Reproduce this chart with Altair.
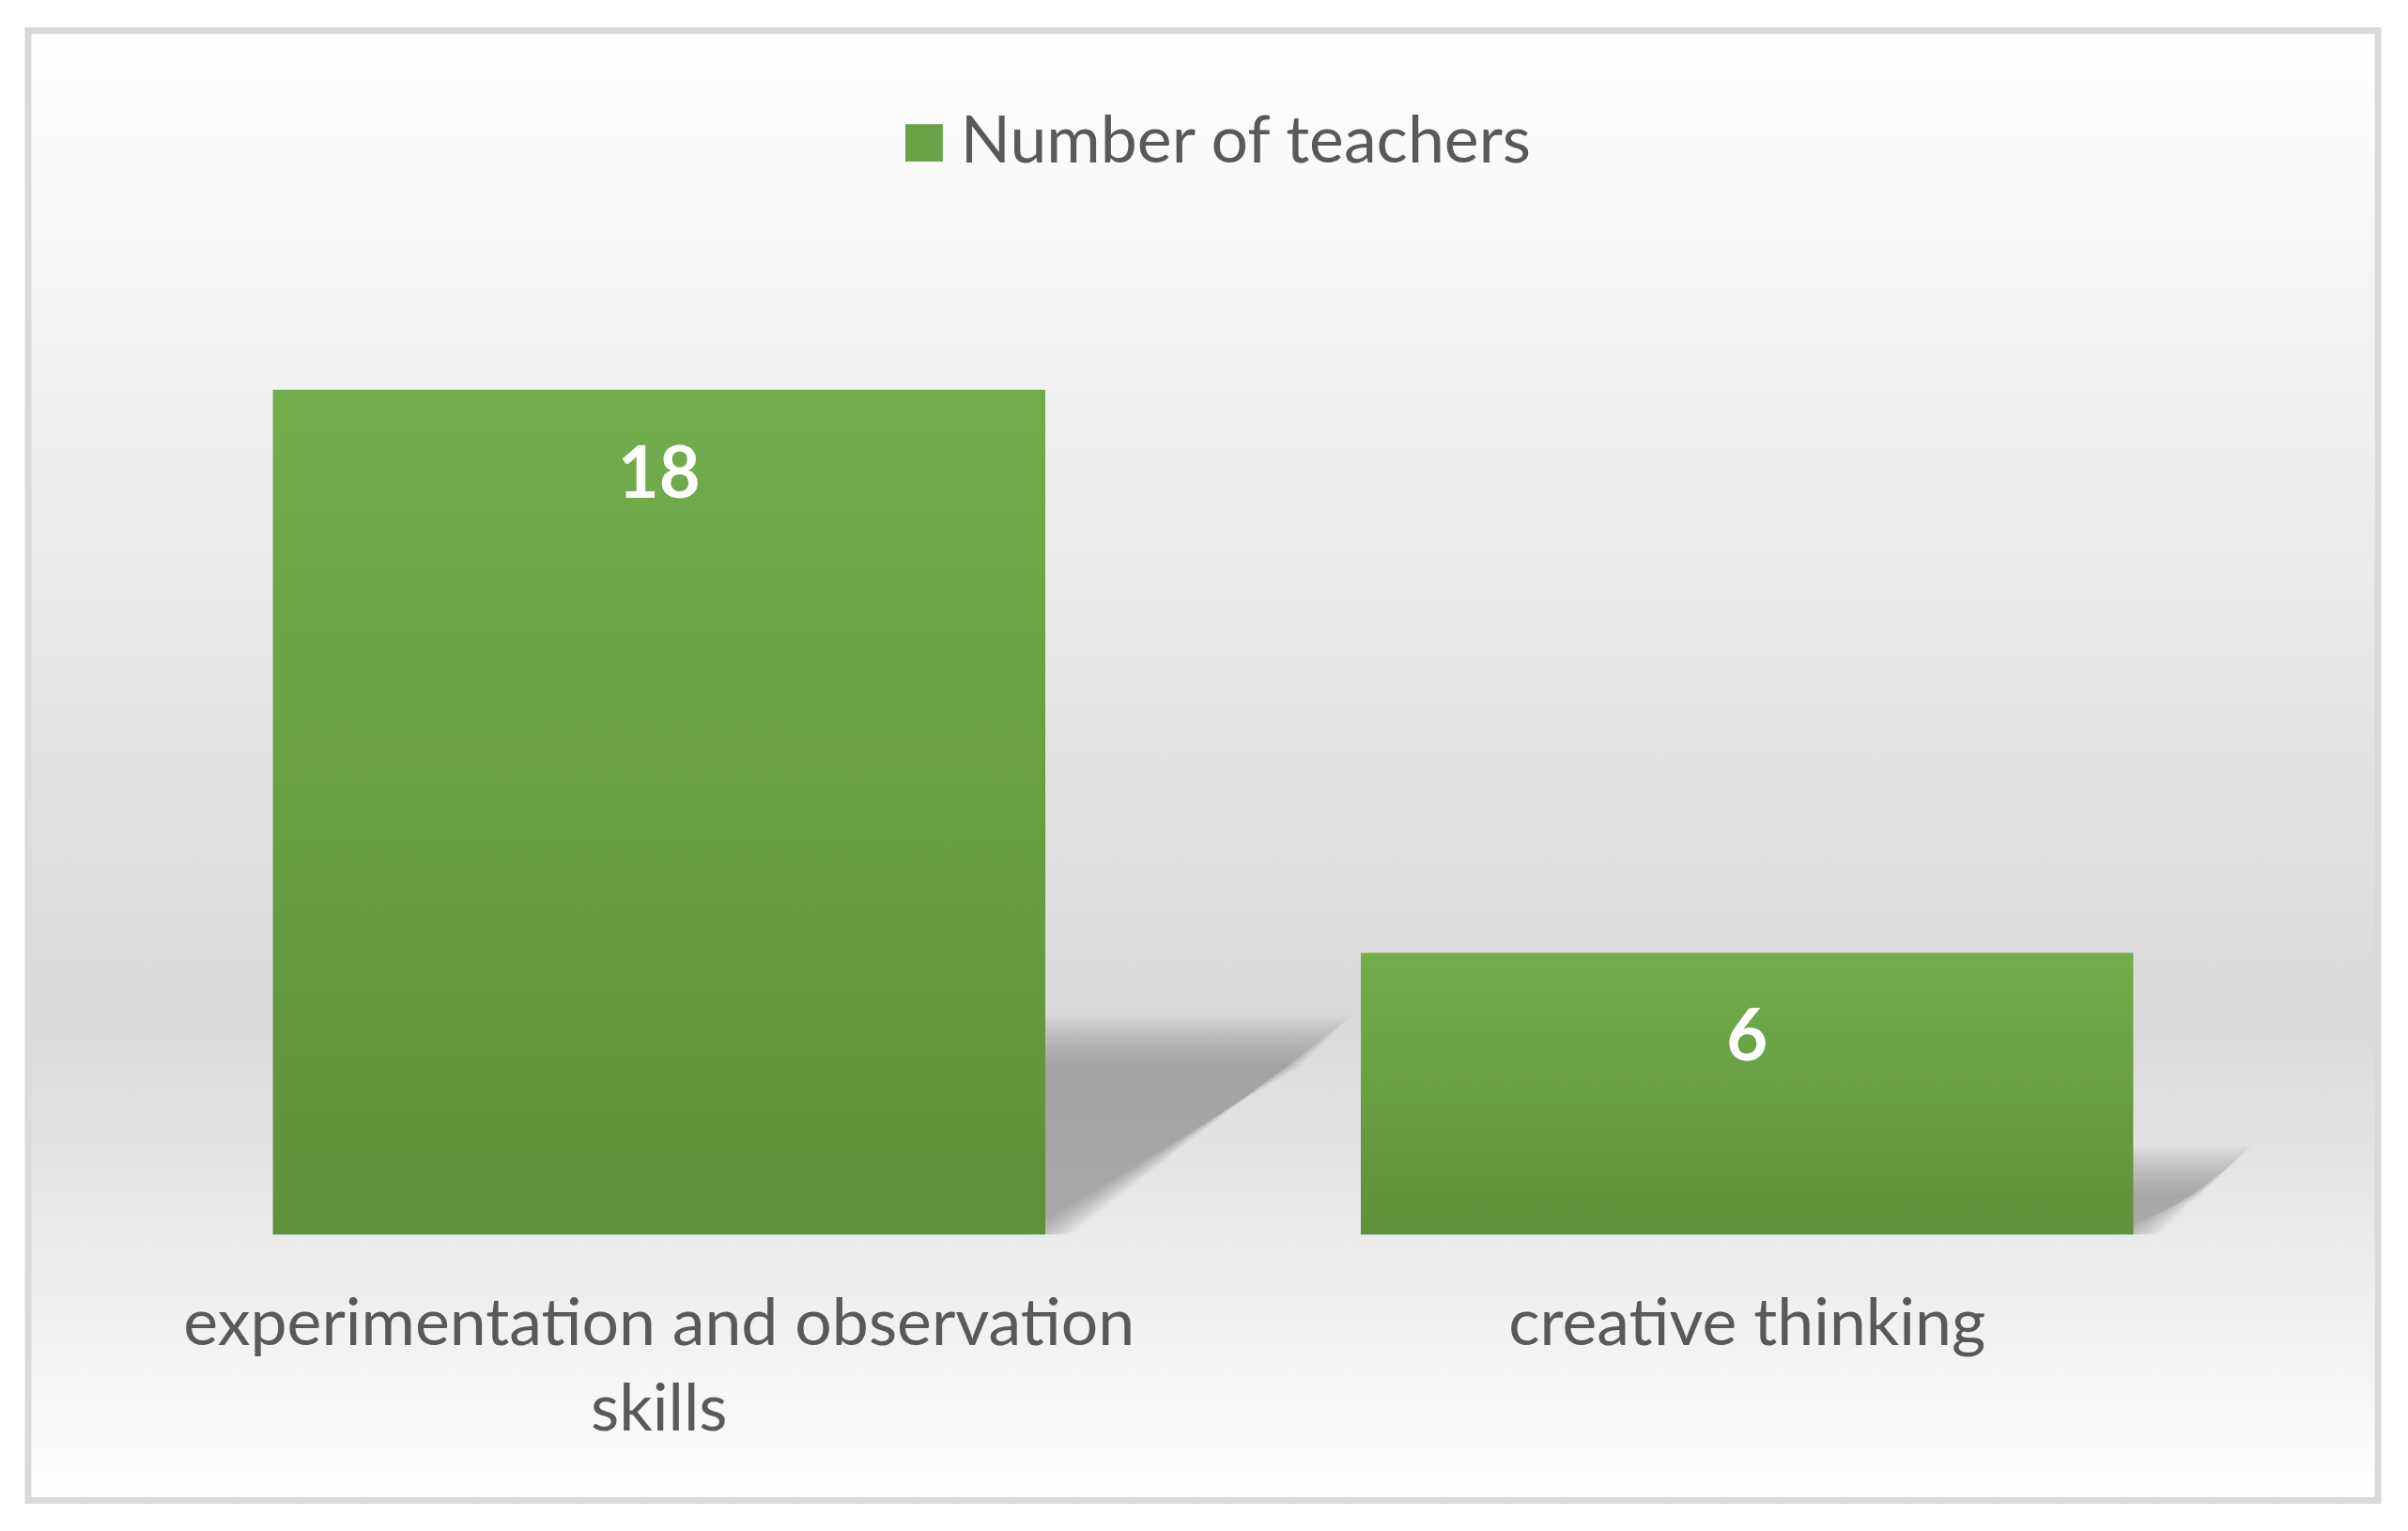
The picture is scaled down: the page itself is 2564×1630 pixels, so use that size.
import altair as alt
import pandas as pd

# ---- data ----
categories = ["experimentation and observation skills", "creative thinking"]
values = [18, 6]
series_name = "Number of teachers"

# ---- style constants ----
FONT = "Lato"
TEXT_GRAY = "#595959"
PAD_INNER = 0.29
PAD_OUTER = 0.225
Y_DOMAIN = [-5.67, 25.66]
W, H = 2510, 1570

df = pd.DataFrame({"category": categories, "value": values, "series": series_name})

# soft perspective shadow behind each bar, derived from the data
step_units = 2 - PAD_INNER + 2 * PAD_OUTER
px_per_unit = H / (Y_DOMAIN[1] - Y_DOMAIN[0])
step_px = W / step_units
blur_offsets = list(range(-26, 27, 4))
shadow_rows = []
for i, (c, v) in enumerate(zip(categories, values)):
    h = 0.23 * v
    d = 1.45 * h * px_per_unit / step_px
    left = PAD_OUTER + i
    right = left + (1 - PAD_INNER)
    for k, o in enumerate(blur_offsets):
        oy = o / px_per_unit
        ox = o / step_px
        key = f"{c}-{k}"
        shadow_rows.append({"id": key, "sy": 0, "sx": left, "sx2": right + ox})
        shadow_rows.append({"id": key, "sy": h + oy, "sx": left + d, "sx2": right + d + ox})
shadow_df = pd.DataFrame(shadow_rows)

band_scale = alt.Scale(type="band", paddingInner=PAD_INNER, paddingOuter=PAD_OUTER)
y_scale = alt.Scale(domain=Y_DOMAIN, nice=False, zero=False)

bg_gradient = alt.LinearGradient(
    gradient="linear",
    x1=0, y1=0, x2=0, y2=1,
    stops=[
        alt.GradientStop(offset=0, color="#ffffff"),
        alt.GradientStop(offset=0.67, color="#d9d9d9"),
        alt.GradientStop(offset=1, color="#ffffff"),
    ],
)
bar_gradient = alt.LinearGradient(
    gradient="linear",
    x1=0, y1=0, x2=0, y2=1,
    stops=[
        alt.GradientStop(offset=0, color="#72ad4c"),
        alt.GradientStop(offset=1, color="#5d913a"),
    ],
)

background = alt.Chart(alt.Data(values=[{"bg": 1}])).mark_rect(
    fill=bg_gradient, stroke="#d9d9d9", strokeWidth=7
).encode(opacity=alt.value(1))

shadows = alt.Chart(shadow_df).mark_area(
    orient="horizontal", fill="#8a8a8a", fillOpacity=0.066
).encode(
    y=alt.Y("sy:Q", scale=y_scale, axis=None),
    x=alt.X("sx:Q", scale=alt.Scale(domain=[0, step_units], nice=False, zero=False), axis=None),
    x2="sx2:Q",
    detail="id:N",
)

bars = alt.Chart(df).mark_bar(fill=bar_gradient).encode(
    x=alt.X(
        "category:N",
        sort=categories,
        scale=band_scale,
        title=None,
        axis=alt.Axis(
            labelAngle=0,
            labelFont=FONT,
            labelFontSize=70,
            labelColor=TEXT_GRAY,
            labelLineHeight=92,
            labelPadding=62,
            labelLimit=3000,
            domain=False,
            ticks=False,
            grid=False,
            offset=-284,
            zindex=2,
            labelExpr="datum.label == 'experimentation and observation skills' ? ['experimentation and observation', 'skills'] : datum.label",
        ),
    ),
    y=alt.Y("value:Q", scale=y_scale, axis=None),
)

labels = alt.Chart(df).mark_text(
    font=FONT, fontSize=76, fontWeight="bold", color="white", baseline="middle", dy=92
).encode(
    x=alt.X("category:N", sort=categories, scale=band_scale, axis=None),
    y=alt.Y("value:Q", scale=y_scale, axis=None),
    text="value:Q",
)

legend_layer = alt.Chart(df).mark_point(shape="square", filled=True, size=0, opacity=1).encode(
    x=alt.X("category:N", sort=categories, scale=band_scale, axis=None),
    y=alt.Y("value:Q", scale=y_scale, axis=None),
    color=alt.Color(
        "series:N",
        scale=alt.Scale(range=["#69a146"]),
        legend=alt.Legend(
            title=None,
            orient="none",
            legendX=922,
            legendY=85,
            symbolType="square",
            symbolSize=1600,
            symbolStrokeWidth=0,
            symbolOpacity=1,
            labelFont=FONT,
            labelFontSize=70,
            labelColor=TEXT_GRAY,
            labelOffset=4,
            labelLimit=3000,
            padding=0,
            zindex=2,
        ),
    ),
)

chart = (
    alt.layer(background, shadows, bars, labels, legend_layer)
    .resolve_scale(x="independent")
    .properties(
        width=W,
        height=H,
        autosize=alt.AutoSizeParams(type="none"),
        padding={"left": 22, "top": 22, "right": 24, "bottom": 24},
        background="white",
    )
    .configure_view(stroke=None)
)

chart.save("out.html", embed_options={"renderer": "svg", "actions": False})
